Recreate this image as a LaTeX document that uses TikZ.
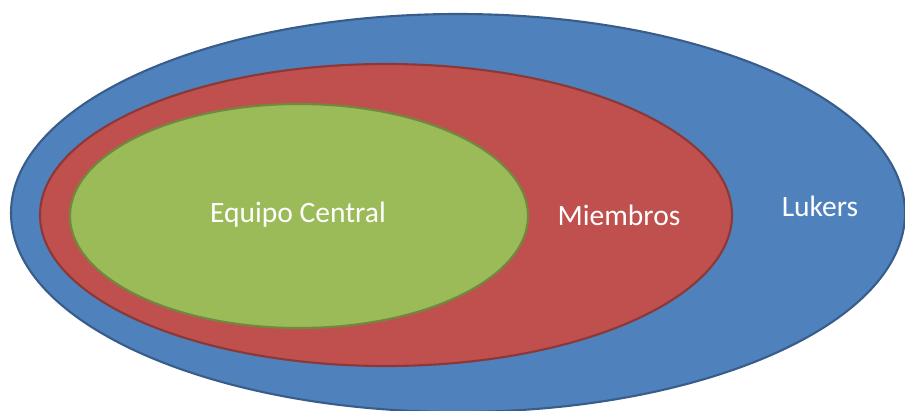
\documentclass[tikz,border=0pt]{standalone}
\usepackage{fontspec}
\setmainfont{Carlito}
\definecolor{outerfill}{HTML}{4F81BD}
\definecolor{outerline}{HTML}{385D8A}
\definecolor{midfill}{HTML}{C0504D}
\definecolor{midline}{HTML}{8C3836}
\definecolor{innerfill}{HTML}{9BBB59}
\definecolor{innerline}{HTML}{71893F}
\tikzset{
  ring/.style={ellipse, line width=1.5pt},
  lbl/.style={text=white, font=\fontsize{21}{25}\selectfont}
}
\usetikzlibrary{shapes.geometric}
\begin{document}
\begin{tikzpicture}[x=0.025cm, y=-0.025cm]
  \useasboundingbox (0,0) rectangle (905,410);
  \clip (0,0) rectangle (905,410);
  % nested sets, outermost first
  \draw[ring, fill=outerfill, draw=outerline] (458,213) ellipse [x radius=447, y radius=199];
  \draw[ring, fill=midfill, draw=midline] (386,215) ellipse [x radius=346, y radius=151];
  \draw[ring, fill=innerfill, draw=innerline] (299,216) ellipse [x radius=229, y radius=112];
  % labels
  \node[lbl] (core) at (298,215) {Equipo Central};
  \node[lbl] (members) at (619,215) {Miembros};
  \node[lbl] (lurkers) at (820,206) {Lukers};
\end{tikzpicture}
\end{document}
